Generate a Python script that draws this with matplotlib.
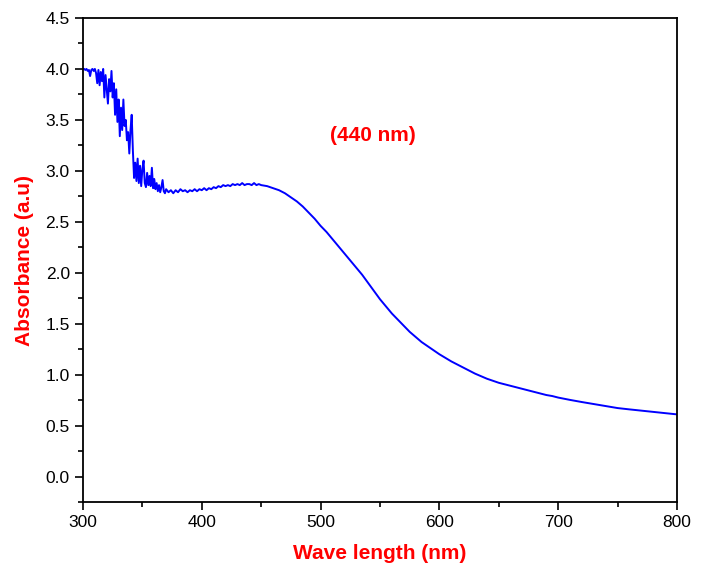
import matplotlib
matplotlib.use("Agg")
import matplotlib.pyplot as plt
from matplotlib.ticker import MultipleLocator

plt.rcParams['font.family'] = ['Liberation Sans', 'DejaVu Sans']

# noisy start of the spectrum (300-370 nm, 1 nm steps)
wl_noisy = list(range(300, 371))
abs_noisy = [4.00, 4.00, 3.99, 4.00, 3.98, 3.99, 3.93, 3.99, 4.00, 3.98,
             4.00, 3.96, 3.86, 3.99, 3.84, 3.97, 3.88, 4.00, 3.72, 3.94,
             3.80, 3.66, 3.90, 3.78, 3.98, 3.72, 3.86, 3.55, 3.80, 3.48,
             3.70, 3.34, 3.62, 3.40, 3.70, 3.44, 3.50, 3.30, 3.38, 3.17,
             3.40, 3.55, 3.20, 2.93, 3.08, 2.90, 3.12, 2.88, 3.05, 2.85,
             3.02, 3.10, 2.88, 2.84, 2.98, 2.86, 2.95, 2.85, 3.03, 2.83,
             2.92, 2.82, 2.88, 2.80, 2.86, 2.79, 2.84, 2.91, 2.80, 2.78,
             2.82]

# plateau around the 440 nm band (372-450 nm, 2 nm steps)
wl_plateau = list(range(372, 451, 2))
abs_plateau = [2.79, 2.81, 2.78, 2.81, 2.79, 2.82, 2.80, 2.81, 2.79, 2.81,
               2.80, 2.82, 2.80, 2.82, 2.81, 2.83, 2.81, 2.83, 2.82, 2.84,
               2.83, 2.85, 2.84, 2.86, 2.85, 2.86, 2.85, 2.87, 2.86, 2.87,
               2.86, 2.88, 2.86, 2.87, 2.87, 2.86, 2.88, 2.86, 2.87, 2.86]

# smooth decay (455-800 nm, 5 nm steps)
wl_tail = list(range(455, 801, 5))
abs_tail = [2.85, 2.83, 2.81, 2.78, 2.74, 2.70, 2.65, 2.59, 2.53, 2.46,
            2.40, 2.33, 2.26, 2.19, 2.12, 2.05, 1.98, 1.90, 1.82, 1.74,
            1.67, 1.60, 1.54, 1.48, 1.42, 1.37, 1.32, 1.28, 1.24, 1.20,
            1.165, 1.13, 1.10, 1.07, 1.04, 1.01, 0.985, 0.96, 0.94, 0.92,
            0.905, 0.89, 0.875, 0.86, 0.845, 0.83, 0.815, 0.80, 0.79, 0.775,
            0.763, 0.752, 0.741, 0.731, 0.721, 0.711, 0.701, 0.691, 0.681, 0.672,
            0.665, 0.659, 0.653, 0.647, 0.641, 0.635, 0.629, 0.622, 0.616, 0.61]

wavelength = wl_noisy + wl_plateau + wl_tail
absorbance = abs_noisy + abs_plateau + abs_tail

fig = plt.figure(figsize=(7.02, 5.71), dpi=100)
ax = fig.add_axes([0.1182, 0.1208, 0.8462, 0.8477])

ax.plot(wavelength, absorbance, color="#0000ff", lw=1.4)

ax.set_xlim(300, 800)
ax.set_ylim(-0.25, 4.5)
ax.xaxis.set_major_locator(MultipleLocator(100))
ax.xaxis.set_minor_locator(MultipleLocator(50))
ax.yaxis.set_major_locator(MultipleLocator(0.5))
ax.yaxis.set_minor_locator(MultipleLocator(0.25))
ax.yaxis.set_major_formatter(plt.FormatStrFormatter("%.1f"))

ax.tick_params(which="major", direction="out", length=6, width=1.2, labelsize=12.5)
ax.tick_params(which="minor", direction="out", length=3.5, width=1.2)
for s in ax.spines.values():
    s.set_linewidth(1.3)

ax.set_xlabel("Wave length (nm)", color="red", fontsize=15, fontweight="bold", labelpad=10)
ax.set_ylabel("Absorbance (a.u)", color="red", fontsize=15, fontweight="bold", labelpad=8)

ax.text(544, 3.35, "(440 nm)", color="red", fontsize=15, fontweight="bold",
        ha="center", va="center")

fig.savefig("out.png", dpi=100)
